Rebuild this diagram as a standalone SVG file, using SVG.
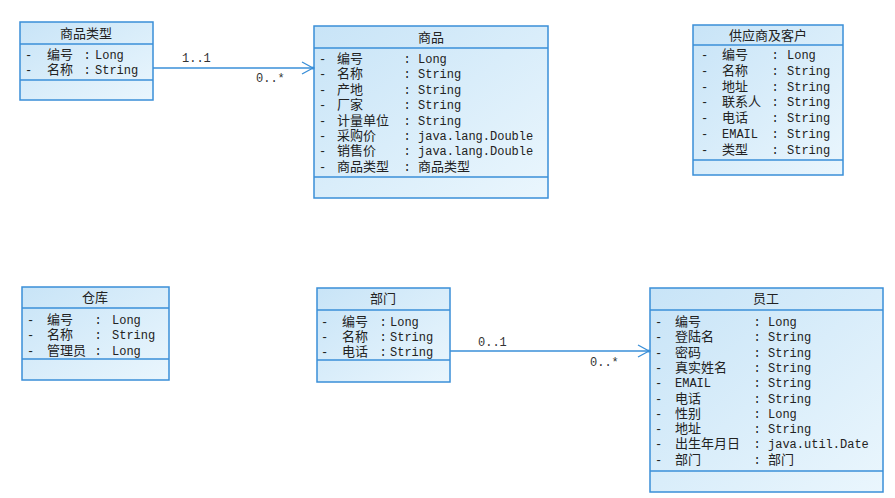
<svg xmlns="http://www.w3.org/2000/svg" width="895" height="498" viewBox="0 0 895 498">
<defs>
<linearGradient id="bg" x1="0" y1="0" x2="1" y2="1">
<stop offset="0" stop-color="#c8e4f7"/>
<stop offset="1" stop-color="#eaf6fd"/>
</linearGradient>
<marker id="arr" markerWidth="14" markerHeight="14" refX="12" refY="7" orient="auto" markerUnits="userSpaceOnUse">
<path d="M1,1 L12,7 L1,13" fill="none" stroke="#3a8fd8" stroke-width="1.3"/>
<circle cx="12" cy="7" r="1.6" fill="#3a8fd8"/>
</marker>
</defs>
<style>
.box{fill:url(#bg);stroke:#3a8fd8;stroke-width:1.5}
.sep{stroke:#3a8fd8;stroke-width:1.5}
.t{font-family:"Noto Sans CJK SC","Noto Sans CJK JP",sans-serif;font-size:13px;fill:#222;text-anchor:middle}
.cn{font-family:"Noto Sans CJK SC","Noto Sans CJK JP",sans-serif;font-size:13px;fill:#222}
.m{font-family:"Liberation Mono","Noto Sans CJK SC",monospace;font-size:12px;fill:#222}
.c{font-family:"Liberation Mono",monospace;font-size:12px;fill:#222;text-anchor:middle}
.conn{stroke:#3a8fd8;stroke-width:1.5;fill:none}
.lbl{font-family:"Liberation Mono",monospace;font-size:12px;fill:#333}
</style>

<g id="node-spxlx">
<rect class="box" x="20" y="22" width="133" height="78"/>
<line class="sep" x1="20" y1="44" x2="153" y2="44"/>
<line class="sep" x1="20" y1="80" x2="153" y2="80"/>
<text class="t" x="86" y="38">商品类型</text>
<text class="m" x="25" y="59">-</text><text class="cn" x="47" y="59">编号</text><text class="c" x="87" y="59">:</text><text class="m" x="95" y="59">Long</text>
<text class="m" x="25" y="74">-</text><text class="cn" x="47" y="74">名称</text><text class="c" x="87" y="74">:</text><text class="m" x="95" y="74">String</text>
</g>

<g id="node-sp">
<rect class="box" x="314" y="26" width="234" height="172"/>
<line class="sep" x1="314" y1="48" x2="548" y2="48"/>
<line class="sep" x1="314" y1="177" x2="548" y2="177"/>
<text class="t" x="431" y="42">商品</text>
<text class="m" x="319" y="63">-</text><text class="cn" x="337" y="63">编号</text><text class="c" x="407" y="63">:</text><text class="m" x="418" y="63">Long</text>
<text class="m" x="319" y="78.4">-</text><text class="cn" x="337" y="78.4">名称</text><text class="c" x="407" y="78.4">:</text><text class="m" x="418" y="78.4">String</text>
<text class="m" x="319" y="93.8">-</text><text class="cn" x="337" y="93.8">产地</text><text class="c" x="407" y="93.8">:</text><text class="m" x="418" y="93.8">String</text>
<text class="m" x="319" y="109.2">-</text><text class="cn" x="337" y="109.2">厂家</text><text class="c" x="407" y="109.2">:</text><text class="m" x="418" y="109.2">String</text>
<text class="m" x="319" y="124.6">-</text><text class="cn" x="337" y="124.6">计量单位</text><text class="c" x="407" y="124.6">:</text><text class="m" x="418" y="124.6">String</text>
<text class="m" x="319" y="140">-</text><text class="cn" x="337" y="140">采购价</text><text class="c" x="407" y="140">:</text><text class="m" x="418" y="140">java.lang.Double</text>
<text class="m" x="319" y="155.4">-</text><text class="cn" x="337" y="155.4">销售价</text><text class="c" x="407" y="155.4">:</text><text class="m" x="418" y="155.4">java.lang.Double</text>
<text class="m" x="319" y="170.8">-</text><text class="cn" x="337" y="170.8">商品类型</text><text class="c" x="407" y="170.8">:</text><text class="cn" x="418" y="170.8">商品类型</text>
</g>

<g id="node-gys">
<rect class="box" x="693" y="25" width="150" height="150"/>
<line class="sep" x1="693" y1="45" x2="843" y2="45"/>
<line class="sep" x1="693" y1="160" x2="843" y2="160"/>
<text class="t" x="768" y="40">供应商及客户</text>
<text class="m" x="701" y="59">-</text><text class="cn" x="722" y="59">编号</text><text class="c" x="775" y="59">:</text><text class="m" x="787" y="59">Long</text>
<text class="m" x="701" y="74.8">-</text><text class="cn" x="722" y="74.8">名称</text><text class="c" x="775" y="74.8">:</text><text class="m" x="787" y="74.8">String</text>
<text class="m" x="701" y="90.6">-</text><text class="cn" x="722" y="90.6">地址</text><text class="c" x="775" y="90.6">:</text><text class="m" x="787" y="90.6">String</text>
<text class="m" x="701" y="106.4">-</text><text class="cn" x="722" y="106.4">联系人</text><text class="c" x="775" y="106.4">:</text><text class="m" x="787" y="106.4">String</text>
<text class="m" x="701" y="122.2">-</text><text class="cn" x="722" y="122.2">电话</text><text class="c" x="775" y="122.2">:</text><text class="m" x="787" y="122.2">String</text>
<text class="m" x="701" y="138">-</text><text class="m" x="722" y="138">EMAIL</text><text class="c" x="775" y="138">:</text><text class="m" x="787" y="138">String</text>
<text class="m" x="701" y="153.8">-</text><text class="cn" x="722" y="153.8">类型</text><text class="c" x="775" y="153.8">:</text><text class="m" x="787" y="153.8">String</text>
</g>

<g id="node-ck">
<rect class="box" x="22" y="287" width="147" height="93"/>
<line class="sep" x1="22" y1="308" x2="169" y2="308"/>
<line class="sep" x1="22" y1="359" x2="169" y2="359"/>
<text class="t" x="95" y="302">仓库</text>
<text class="m" x="27" y="324">-</text><text class="cn" x="47" y="324">编号</text><text class="c" x="98" y="324">:</text><text class="m" x="112" y="324">Long</text>
<text class="m" x="27" y="339">-</text><text class="cn" x="47" y="339">名称</text><text class="c" x="98" y="339">:</text><text class="m" x="112" y="339">String</text>
<text class="m" x="27" y="355">-</text><text class="cn" x="47" y="355">管理员</text><text class="c" x="98" y="355">:</text><text class="m" x="112" y="355">Long</text>
</g>

<g id="node-bm">
<rect class="box" x="317" y="288" width="133" height="94"/>
<line class="sep" x1="317" y1="310" x2="450" y2="310"/>
<line class="sep" x1="317" y1="360" x2="450" y2="360"/>
<text class="t" x="383" y="303">部门</text>
<text class="m" x="321" y="326">-</text><text class="cn" x="342" y="326">编号</text><text class="c" x="383" y="326">:</text><text class="m" x="390" y="326">Long</text>
<text class="m" x="321" y="341">-</text><text class="cn" x="342" y="341">名称</text><text class="c" x="383" y="341">:</text><text class="m" x="390" y="341">String</text>
<text class="m" x="321" y="356">-</text><text class="cn" x="342" y="356">电话</text><text class="c" x="383" y="356">:</text><text class="m" x="390" y="356">String</text>
</g>

<g id="node-yg">
<rect class="box" x="650" y="288" width="233" height="204"/>
<line class="sep" x1="650" y1="310" x2="883" y2="310"/>
<line class="sep" x1="650" y1="471" x2="883" y2="471"/>
<text class="t" x="766" y="303">员工</text>
<text class="m" x="655" y="326">-</text><text class="cn" x="675" y="326">编号</text><text class="c" x="757" y="326">:</text><text class="m" x="768" y="326">Long</text>
<text class="m" x="655" y="341.3">-</text><text class="cn" x="675" y="341.3">登陆名</text><text class="c" x="757" y="341.3">:</text><text class="m" x="768" y="341.3">String</text>
<text class="m" x="655" y="356.6">-</text><text class="cn" x="675" y="356.6">密码</text><text class="c" x="757" y="356.6">:</text><text class="m" x="768" y="356.6">String</text>
<text class="m" x="655" y="371.9">-</text><text class="cn" x="675" y="371.9">真实姓名</text><text class="c" x="757" y="371.9">:</text><text class="m" x="768" y="371.9">String</text>
<text class="m" x="655" y="387.2">-</text><text class="m" x="675" y="387.2">EMAIL</text><text class="c" x="757" y="387.2">:</text><text class="m" x="768" y="387.2">String</text>
<text class="m" x="655" y="402.5">-</text><text class="cn" x="675" y="402.5">电话</text><text class="c" x="757" y="402.5">:</text><text class="m" x="768" y="402.5">String</text>
<text class="m" x="655" y="417.8">-</text><text class="cn" x="675" y="417.8">性别</text><text class="c" x="757" y="417.8">:</text><text class="m" x="768" y="417.8">Long</text>
<text class="m" x="655" y="433.1">-</text><text class="cn" x="675" y="433.1">地址</text><text class="c" x="757" y="433.1">:</text><text class="m" x="768" y="433.1">String</text>
<text class="m" x="655" y="448.4">-</text><text class="cn" x="675" y="448.4">出生年月日</text><text class="c" x="757" y="448.4">:</text><text class="m" x="768" y="448.4">java.util.Date</text>
<text class="m" x="655" y="463.7">-</text><text class="cn" x="675" y="463.7">部门</text><text class="c" x="757" y="463.7">:</text><text class="cn" x="768" y="463.7">部门</text>
</g>

<g id="connectors">
<line class="conn" x1="153" y1="68" x2="313" y2="68" marker-end="url(#arr)"/>
<text class="lbl" x="182" y="62">1..1</text>
<text class="lbl" x="256" y="82">0..*</text>
<line class="conn" x1="450" y1="351" x2="649" y2="351" marker-end="url(#arr)"/>
<text class="lbl" x="478" y="346">0..1</text>
<text class="lbl" x="590" y="366">0..*</text>
</g>
</svg>
